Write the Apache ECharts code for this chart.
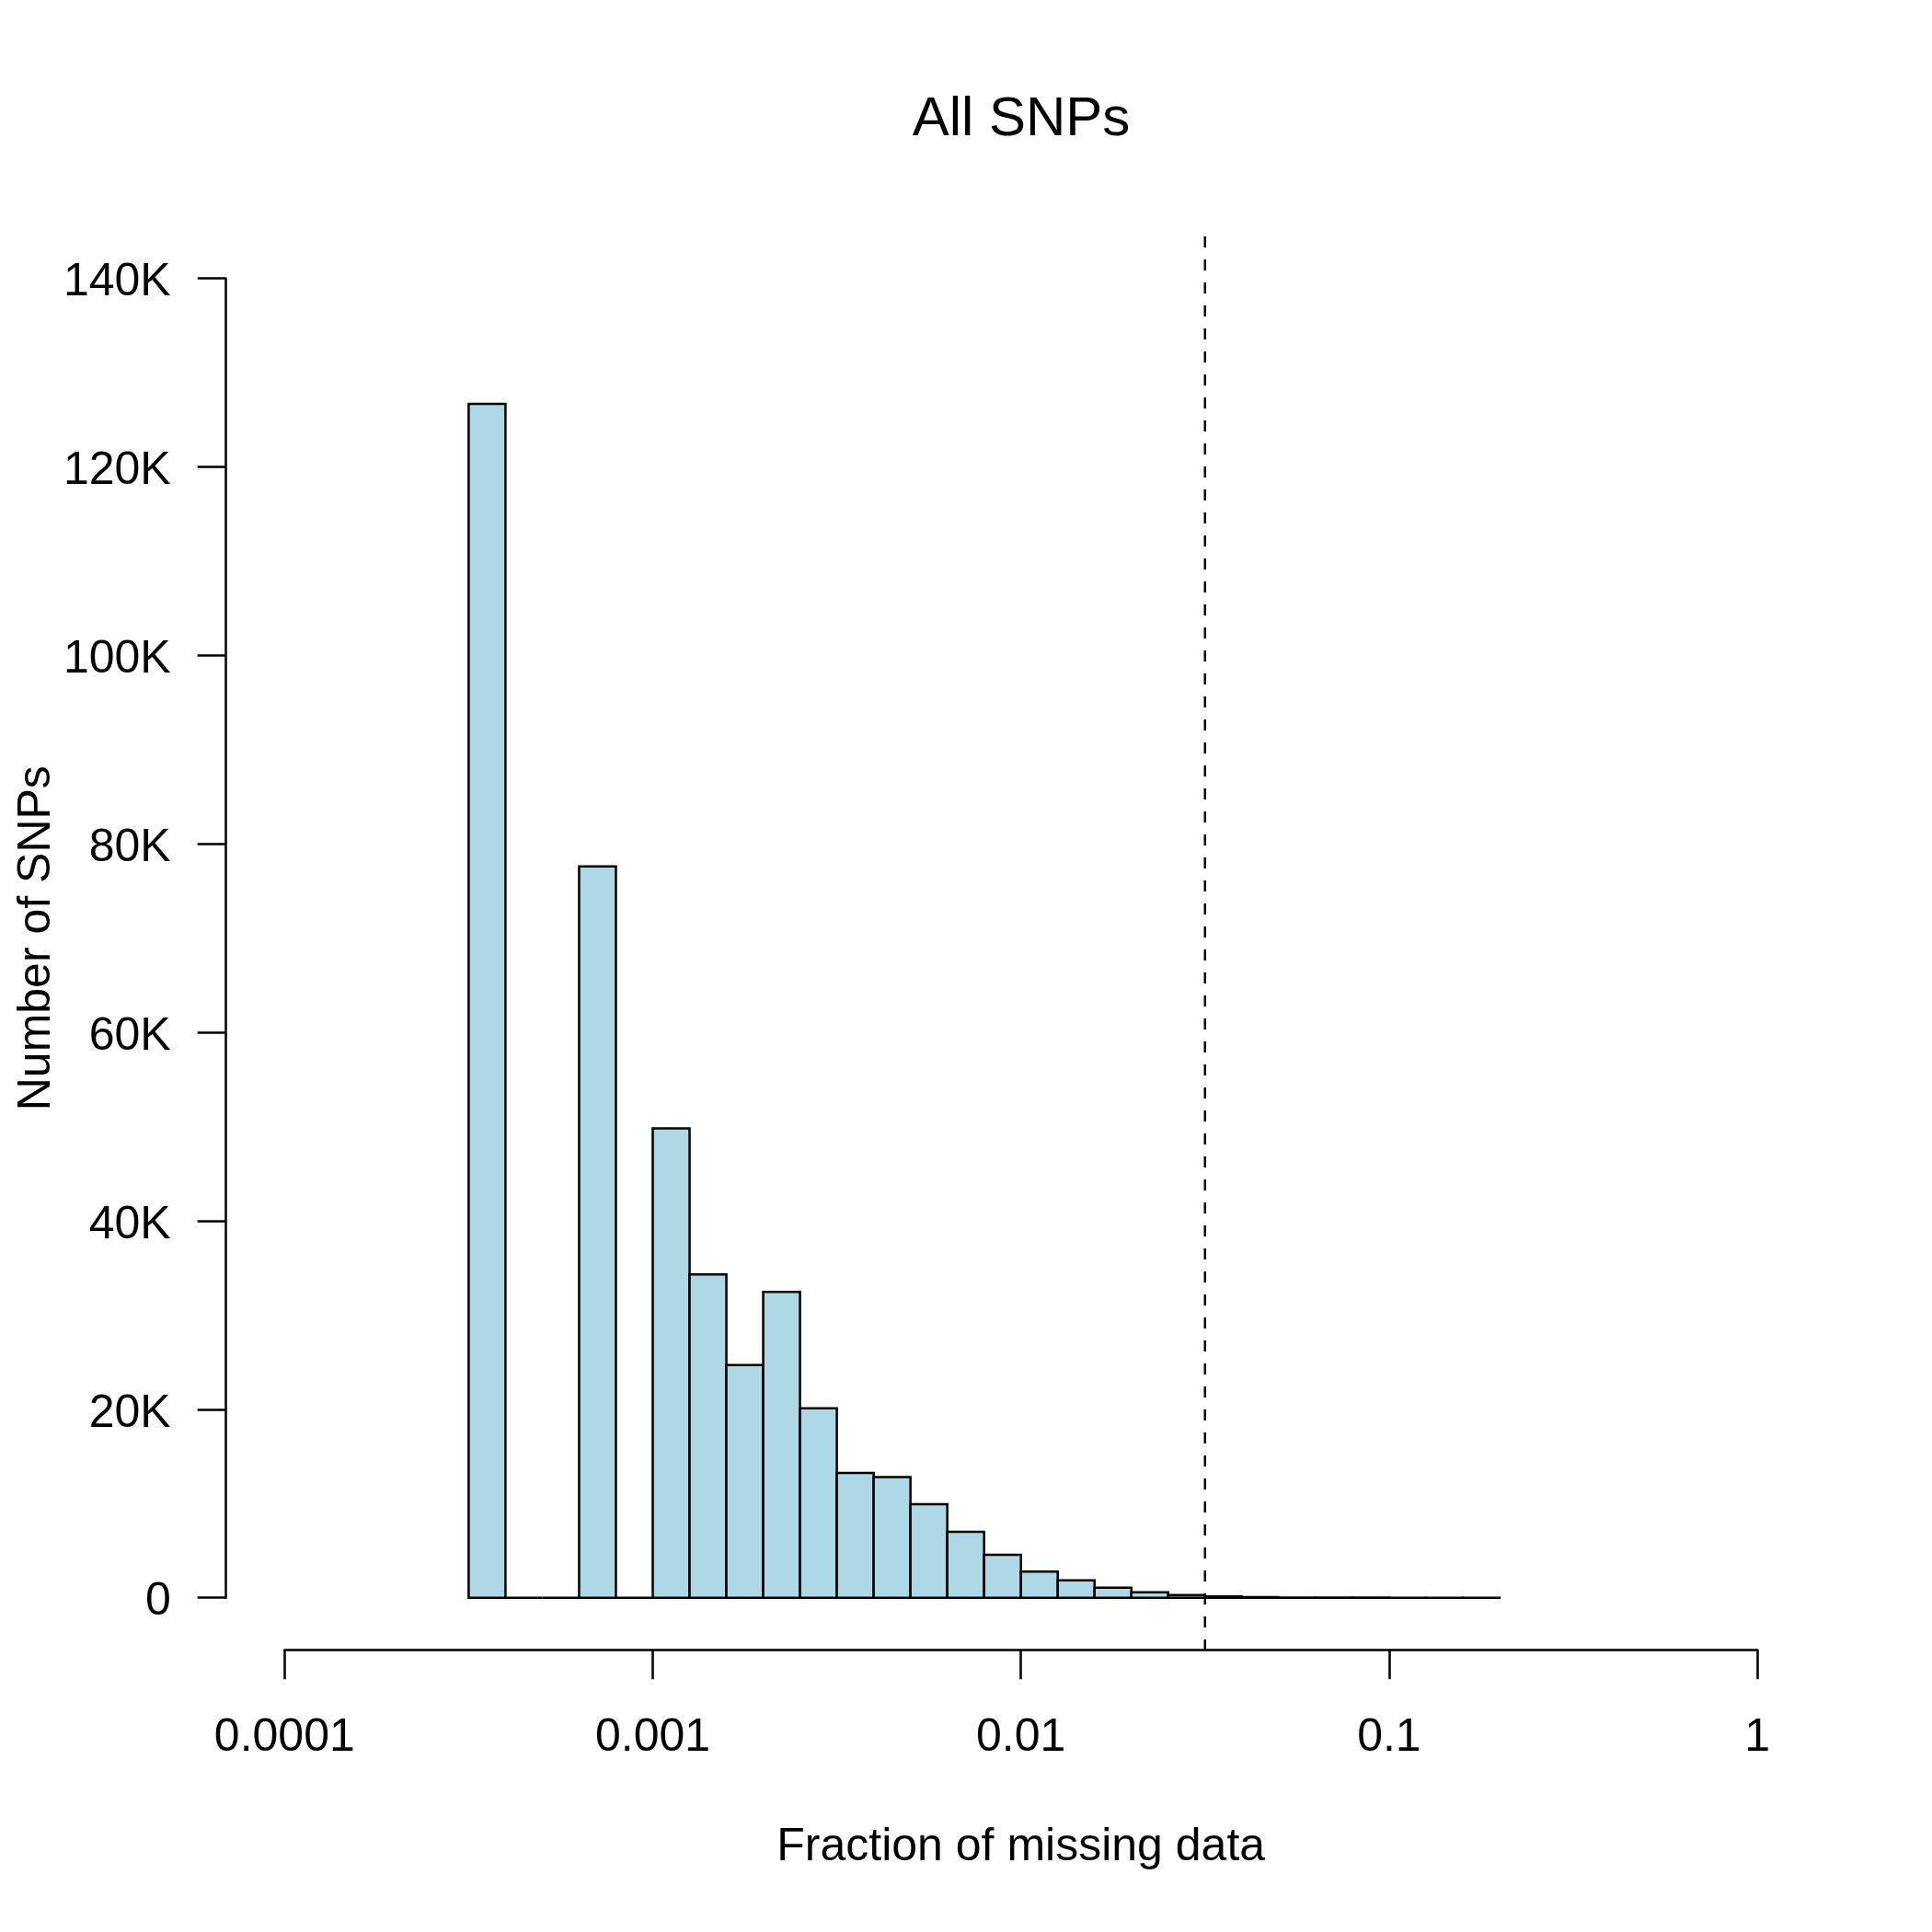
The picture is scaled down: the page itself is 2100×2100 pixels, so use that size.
<!DOCTYPE html>
<html>
<head>
<meta charset="utf-8">
<script src="https://cdn.jsdelivr.net/npm/echarts@6/dist/echarts.min.js"></script>
<style>
html,body{margin:0;padding:0;background:#fff;}
#chart{width:2100px;height:2100px;}
</style>
</head>
<body>
<div id="chart"></div>
<script>
// log10 of the lower edge of each histogram bin (fraction of missing data)
const binLower = [-3.5,-3.4,-3.3,-3.2,-3.1,-3.0,-2.9,-2.8,-2.7,-2.6,-2.5,-2.4,-2.3,-2.2,-2.1,-2.0,-1.9,-1.8,-1.7,-1.6,-1.5,-1.4,-1.3,-1.2,-1.1,-1.0,-0.9,-0.8];
const binWidth = 0.1;
// number of SNPs in each bin
const snpCounts = [126700,0,0,77600,0,49800,34300,24700,32450,20100,13250,12800,9930,7000,4560,2770,1860,1070,590,290,150,60,30,15,10,5,3,2];
// cutoff (log10) drawn as dashed line: 10^-1.5 ≈ 0.0316
const cutoffLog = -1.5;
// axis ticks
const xTickValues = [-4,-3,-2,-1,0];
const xTickLabels = ['0.0001','0.001','0.01','0.1','1'];
const yTickLabels = ['0','20K','40K','60K','80K','100K','120K','140K'];
const titleText = 'All SNPs';
const xName = 'Fraction of missing data';
const yName = 'Number of SNPs';

const FONT = 'Liberation Sans, Arial, Helvetica, sans-serif';
const chart = echarts.init(document.getElementById('chart'), null, {renderer:'canvas'});

const barData = binLower.map((b,i)=>[b, b+binWidth, snpCounts[i]]);
// plot region in R extends 4% beyond the y range [0,140000]
const yLo = -5600, yHi = 145600;

const option = {
  backgroundColor:'#ffffff',
  animation:false,
  title:{
    text:titleText,
    left:1110, top:100, textAlign:'center', padding:0,
    textStyle:{fontFamily:FONT,fontSize:60,fontWeight:'normal',color:'#000'}
  },
  grid:{left:309.3,right:189.9,top:302.7,bottom:363.3,containLabel:false,outerBoundsMode:'none'},
  xAxis:{
    type:'value',min:-4,max:0,interval:1,
    position:'bottom',
    offset:56.6,
    name:xName,nameLocation:'middle',nameGap:190,nameMoveOverlap:false,
    nameTextStyle:{fontFamily:FONT,fontSize:50,color:'#000'},
    axisLine:{show:true,onZero:false,lineStyle:{color:'#000',width:2.5}},
    axisTick:{show:true,inside:false,length:32,lineStyle:{color:'#000',width:2.5}},
    axisLabel:{show:true,margin:71,fontFamily:FONT,fontSize:50,color:'#000',
      formatter:(v)=>{const i=xTickValues.indexOf(Math.round(v));return i>=0?xTickLabels[i]:'';}},
    splitLine:{show:false}
  },
  yAxis:{
    type:'value',min:0,max:140000,interval:20000,
    position:'left',
    offset:63.6,
    name:yName,nameLocation:'middle',nameGap:180,nameRotate:90,nameMoveOverlap:false,
    nameTextStyle:{fontFamily:FONT,fontSize:50,color:'#000'},
    axisLine:{show:true,onZero:false,lineStyle:{color:'#000',width:2.5}},
    axisTick:{show:true,inside:false,length:31,lineStyle:{color:'#000',width:2.5}},
    axisLabel:{show:true,margin:60,fontFamily:FONT,fontSize:50,color:'#000',
      rich:{t:{fontFamily:FONT,fontSize:50,color:'#000',padding:[10,0,0,0]}},
      formatter:(v)=>'{t|'+yTickLabels[Math.round(v/20000)]+'}'},
    splitLine:{show:false}
  },
  series:[
    {
      type:'custom',
      data:barData,
      encode:{x:[0,1],y:2},
      renderItem:(params,api)=>{
        const p0 = api.coord([api.value(0), api.value(2)]);
        const p1 = api.coord([api.value(1), 0]);
        return {
          type:'rect',
          shape:{x:p0[0],y:p0[1],width:p1[0]-p0[0],height:p1[1]-p0[1]},
          style:{fill:'#ADD8E6',stroke:'#000',lineWidth:2.5}
        };
      }
    },
    {
      type:'custom',
      data:[[cutoffLog,yLo,yHi]],
      encode:{x:0,y:[1,2]},
      z:5,
      renderItem:(params,api)=>{
        const a = api.coord([api.value(0), api.value(1)]);
        const b = api.coord([api.value(0), api.value(2)]);
        return {
          type:'line',
          shape:{x1:a[0],y1:a[1],x2:b[0],y2:b[1]},
          style:{stroke:'#000',lineWidth:2.5,lineDash:[12,13]}
        };
      }
    }
  ]
};
chart.setOption(option);
</script>
</body>
</html>
